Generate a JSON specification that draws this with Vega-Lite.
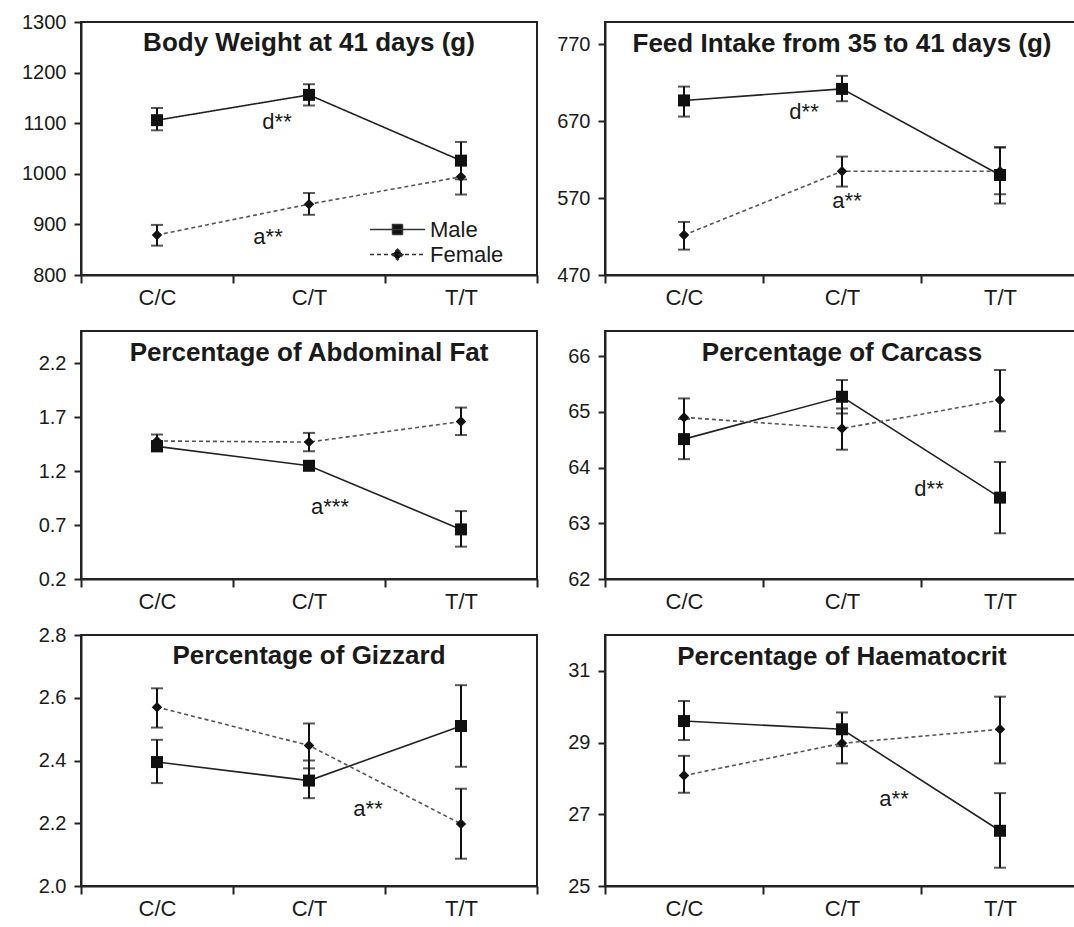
{
  "$schema": "https://vega.github.io/schema/vega-lite/v6.json",
  "padding": {"left": 20, "top": 11, "right": 0, "bottom": 0},
  "background": "white",
  "columns": 2,
  "align": "each",
  "bounds": "flush",
  "spacing": {"row": 56, "column": 68},
  "resolve": {"scale": {"strokeDash": "independent"}, "legend": {"strokeDash": "independent"}},
  "datasets": {
    "m": [
      {"panel": "bw", "sex": "Male", "geno": "C/C", "mean": 1106, "lo": 1086, "hi": 1130},
      {"panel": "bw", "sex": "Male", "geno": "C/T", "mean": 1156, "lo": 1135, "hi": 1177},
      {"panel": "bw", "sex": "Male", "geno": "T/T", "mean": 1026, "lo": 989, "hi": 1063},
      {"panel": "bw", "sex": "Female", "geno": "C/C", "mean": 879, "lo": 858, "hi": 899},
      {"panel": "bw", "sex": "Female", "geno": "C/T", "mean": 940, "lo": 919, "hi": 962},
      {"panel": "bw", "sex": "Female", "geno": "T/T", "mean": 994, "lo": 959, "hi": 1029},
      {"panel": "fi", "sex": "Male", "geno": "C/C", "mean": 697, "lo": 676, "hi": 715},
      {"panel": "fi", "sex": "Male", "geno": "C/T", "mean": 712, "lo": 696, "hi": 729},
      {"panel": "fi", "sex": "Male", "geno": "T/T", "mean": 600, "lo": 563, "hi": 636},
      {"panel": "fi", "sex": "Female", "geno": "C/C", "mean": 522, "lo": 503, "hi": 539},
      {"panel": "fi", "sex": "Female", "geno": "C/T", "mean": 605, "lo": 585, "hi": 624},
      {"panel": "fi", "sex": "Female", "geno": "T/T", "mean": 605, "lo": 575, "hi": 636},
      {"panel": "af", "sex": "Male", "geno": "C/C", "mean": 1.43, "lo": 1.39, "hi": 1.48},
      {"panel": "af", "sex": "Male", "geno": "C/T", "mean": 1.25, "lo": 1.21, "hi": 1.29},
      {"panel": "af", "sex": "Male", "geno": "T/T", "mean": 0.66, "lo": 0.5, "hi": 0.83},
      {"panel": "af", "sex": "Female", "geno": "C/C", "mean": 1.48, "lo": 1.41, "hi": 1.54},
      {"panel": "af", "sex": "Female", "geno": "C/T", "mean": 1.47, "lo": 1.385, "hi": 1.555},
      {"panel": "af", "sex": "Female", "geno": "T/T", "mean": 1.66, "lo": 1.535, "hi": 1.79},
      {"panel": "ca", "sex": "Male", "geno": "C/C", "mean": 64.51, "lo": 64.15, "hi": 64.87},
      {"panel": "ca", "sex": "Male", "geno": "C/T", "mean": 65.27, "lo": 64.97, "hi": 65.57},
      {"panel": "ca", "sex": "Male", "geno": "T/T", "mean": 63.46, "lo": 62.82, "hi": 64.1},
      {"panel": "ca", "sex": "Female", "geno": "C/C", "mean": 64.9, "lo": 64.56, "hi": 65.24},
      {"panel": "ca", "sex": "Female", "geno": "C/T", "mean": 64.7, "lo": 64.32, "hi": 65.06},
      {"panel": "ca", "sex": "Female", "geno": "T/T", "mean": 65.21, "lo": 64.65, "hi": 65.75},
      {"panel": "gz", "sex": "Male", "geno": "C/C", "mean": 2.395, "lo": 2.328, "hi": 2.466},
      {"panel": "gz", "sex": "Male", "geno": "C/T", "mean": 2.336, "lo": 2.28, "hi": 2.4},
      {"panel": "gz", "sex": "Male", "geno": "T/T", "mean": 2.51, "lo": 2.38, "hi": 2.64},
      {"panel": "gz", "sex": "Female", "geno": "C/C", "mean": 2.57, "lo": 2.505, "hi": 2.63},
      {"panel": "gz", "sex": "Female", "geno": "C/T", "mean": 2.448, "lo": 2.375, "hi": 2.518},
      {"panel": "gz", "sex": "Female", "geno": "T/T", "mean": 2.198, "lo": 2.087, "hi": 2.31},
      {"panel": "ha", "sex": "Male", "geno": "C/C", "mean": 29.6, "lo": 29.07, "hi": 30.16},
      {"panel": "ha", "sex": "Male", "geno": "C/T", "mean": 29.37, "lo": 28.9, "hi": 29.84},
      {"panel": "ha", "sex": "Male", "geno": "T/T", "mean": 26.54, "lo": 25.51, "hi": 27.59},
      {"panel": "ha", "sex": "Female", "geno": "C/C", "mean": 28.08, "lo": 27.6, "hi": 28.63},
      {"panel": "ha", "sex": "Female", "geno": "C/T", "mean": 28.98, "lo": 28.42, "hi": 29.45},
      {"panel": "ha", "sex": "Female", "geno": "T/T", "mean": 29.37, "lo": 28.42, "hi": 30.28}
    ],
    "ann": [
      {"panel": "bw", "geno": "C/T", "label": "d**", "y": 1103},
      {"panel": "bw", "geno": "C/T", "label": "a**", "y": 876},
      {"panel": "fi", "geno": "C/T", "label": "d**", "y": 682},
      {"panel": "fi", "geno": "C/T", "label": "a**", "y": 566},
      {"panel": "af", "geno": "C/T", "label": "a***", "y": 0.87},
      {"panel": "ca", "geno": "T/T", "label": "d**", "y": 63.62},
      {"panel": "gz", "geno": "C/T", "label": "a**", "y": 2.245},
      {"panel": "ha", "geno": "C/T", "label": "a**", "y": 27.42}
    ]
  },
  "concat": [
    {
      "width": 456, "height": 253,
      "title": {"text": "Body Weight at 41 days (g)", "anchor": "middle", "frame": "group", "baseline": "top", "offset": -44},
      "layer": [
        {"data": {"name": "m"}, "transform": [{"filter": "datum.panel === 'bw'"}],
         "mark": {"type": "rule", "color": "#111", "strokeWidth": 2},
         "encoding": {
           "x": {"field": "geno", "type": "nominal", "title": null, "scale": {"type": "band", "domain": ["C/C", "C/T", "T/T"], "paddingInner": 0, "paddingOuter": 0}},
           "y": {"field": "lo", "type": "quantitative", "title": null, "scale": {"domain": [800, 1300], "nice": false, "zero": false}, "axis": {"values": [800, 900, 1000, 1100, 1200, 1300], "format": "d"}},
           "y2": {"field": "hi"}}},
        {"data": {"name": "m"}, "transform": [{"filter": "datum.panel === 'bw'"}],
         "mark": {"type": "tick", "color": "#111", "size": 12, "thickness": 2},
         "encoding": {"x": {"field": "geno", "type": "nominal", "title": null}, "y": {"field": "lo", "type": "quantitative", "title": null}}},
        {"data": {"name": "m"}, "transform": [{"filter": "datum.panel === 'bw'"}],
         "mark": {"type": "tick", "color": "#111", "size": 12, "thickness": 2},
         "encoding": {"x": {"field": "geno", "type": "nominal", "title": null}, "y": {"field": "hi", "type": "quantitative", "title": null}}},
        {"data": {"name": "m"}, "transform": [{"filter": "datum.panel === 'bw' && datum.sex === 'Male'"}],
         "mark": {"type": "line", "strokeWidth": 1.6, "color": "#222222"},
         "encoding": {"x": {"field": "geno", "type": "nominal", "title": null}, "y": {"field": "mean", "type": "quantitative", "title": null},
           "strokeDash": {"field": "sex", "type": "nominal", "scale": {"domain": ["Male", "Female"], "range": [[1, 0], [4, 3]]},
             "legend": {"orient": "none", "legendX": 303, "legendY": 194, "title": null, "padding": 0, "symbolType": "M-2.2,0H2.2M-0.4,-0.4H0.4V0.4H-0.4Z", "symbolSize": 625, "symbolFillColor": "#111111", "symbolStrokeColor": "#222222", "symbolStrokeWidth": 1.5, "symbolOpacity": 1, "rowPadding": 0, "labelOffset": 19, "labelFontSize": 22, "labelFont": "Liberation Sans", "labelColor": "#1a1a1a",
               "encode": {"symbols": {"update": {
                 "shape": [{"test": "datum.value === 'Male'", "value": "M-2.2,0H2.2M-0.4,-0.4H0.4V0.4H-0.4Z"}, {"value": "M-2.2,0H2.2M0,-0.44L0.44,0L0,0.44L-0.44,0Z"}],
                 "fill": {"value": "#111111"}, "stroke": {"value": "#333333"}, "strokeWidth": {"value": 1.5}}}}}}}},
        {"data": {"name": "m"}, "transform": [{"filter": "datum.panel === 'bw' && datum.sex === 'Female'"}],
         "mark": {"type": "line", "strokeWidth": 1.6, "color": "#555555", "strokeDash": [4, 3]},
         "encoding": {"x": {"field": "geno", "type": "nominal", "title": null}, "y": {"field": "mean", "type": "quantitative", "title": null}}},
        {"data": {"name": "m"}, "transform": [{"filter": "datum.panel === 'bw' && datum.sex === 'Male'"}],
         "mark": {"type": "point", "shape": "square", "filled": true, "size": 144, "color": "#111", "opacity": 1},
         "encoding": {"x": {"field": "geno", "type": "nominal", "title": null}, "y": {"field": "mean", "type": "quantitative", "title": null}}},
        {"data": {"name": "m"}, "transform": [{"filter": "datum.panel === 'bw' && datum.sex === 'Female'"}],
         "mark": {"type": "point", "shape": "diamond", "filled": true, "size": 110, "color": "#111", "opacity": 1},
         "encoding": {"x": {"field": "geno", "type": "nominal", "title": null}, "y": {"field": "mean", "type": "quantitative", "title": null}}},
        {"data": {"name": "ann"}, "transform": [{"filter": "datum.panel === 'bw' && datum.label === 'd**'"}],
         "mark": {"type": "text", "fontSize": 22, "color": "#1a1a1a", "dx": -32},
         "encoding": {"x": {"field": "geno", "type": "nominal", "title": null}, "y": {"field": "y", "type": "quantitative", "title": null}, "text": {"field": "label"}}},
        {"data": {"name": "ann"}, "transform": [{"filter": "datum.panel === 'bw' && datum.label === 'a**'"}],
         "mark": {"type": "text", "fontSize": 22, "color": "#1a1a1a", "dx": -41},
         "encoding": {"x": {"field": "geno", "type": "nominal", "title": null}, "y": {"field": "y", "type": "quantitative", "title": null}, "text": {"field": "label"}}}
      ]
    },
    {
      "width": 474, "height": 253,
      "title": {"text": "Feed Intake from 35 to 41 days (g)", "anchor": "middle", "frame": "group", "baseline": "top", "offset": -35},
      "layer": [
        {"data": {"name": "m"}, "transform": [{"filter": "datum.panel === 'fi'"}],
         "mark": {"type": "rule", "color": "#111", "strokeWidth": 2},
         "encoding": {
           "x": {"field": "geno", "type": "nominal", "title": null, "scale": {"type": "band", "domain": ["C/C", "C/T", "T/T"], "paddingInner": 0, "paddingOuter": 0}},
           "y": {"field": "lo", "type": "quantitative", "title": null, "scale": {"domain": [470, 799], "nice": false, "zero": false}, "axis": {"values": [470, 570, 670, 770], "format": "d"}},
           "y2": {"field": "hi"}}},
        {"data": {"name": "m"}, "transform": [{"filter": "datum.panel === 'fi'"}],
         "mark": {"type": "tick", "color": "#111", "size": 12, "thickness": 2},
         "encoding": {"x": {"field": "geno", "type": "nominal", "title": null}, "y": {"field": "lo", "type": "quantitative", "title": null}}},
        {"data": {"name": "m"}, "transform": [{"filter": "datum.panel === 'fi'"}],
         "mark": {"type": "tick", "color": "#111", "size": 12, "thickness": 2},
         "encoding": {"x": {"field": "geno", "type": "nominal", "title": null}, "y": {"field": "hi", "type": "quantitative", "title": null}}},
        {"data": {"name": "m"}, "transform": [{"filter": "datum.panel === 'fi' && datum.sex === 'Male'"}],
         "mark": {"type": "line", "strokeWidth": 1.6, "color": "#222222"},
         "encoding": {"x": {"field": "geno", "type": "nominal", "title": null}, "y": {"field": "mean", "type": "quantitative", "title": null}}},
        {"data": {"name": "m"}, "transform": [{"filter": "datum.panel === 'fi' && datum.sex === 'Female'"}],
         "mark": {"type": "line", "strokeWidth": 1.6, "color": "#555555", "strokeDash": [4, 3]},
         "encoding": {"x": {"field": "geno", "type": "nominal", "title": null}, "y": {"field": "mean", "type": "quantitative", "title": null}}},
        {"data": {"name": "m"}, "transform": [{"filter": "datum.panel === 'fi' && datum.sex === 'Male'"}],
         "mark": {"type": "point", "shape": "square", "filled": true, "size": 144, "color": "#111", "opacity": 1},
         "encoding": {"x": {"field": "geno", "type": "nominal", "title": null}, "y": {"field": "mean", "type": "quantitative", "title": null}}},
        {"data": {"name": "m"}, "transform": [{"filter": "datum.panel === 'fi' && datum.sex === 'Female'"}],
         "mark": {"type": "point", "shape": "diamond", "filled": true, "size": 110, "color": "#111", "opacity": 1},
         "encoding": {"x": {"field": "geno", "type": "nominal", "title": null}, "y": {"field": "mean", "type": "quantitative", "title": null}}},
        {"data": {"name": "ann"}, "transform": [{"filter": "datum.panel === 'fi' && datum.label === 'd**'"}],
         "mark": {"type": "text", "fontSize": 22, "color": "#1a1a1a", "dx": -38},
         "encoding": {"x": {"field": "geno", "type": "nominal", "title": null}, "y": {"field": "y", "type": "quantitative", "title": null}, "text": {"field": "label"}}},
        {"data": {"name": "ann"}, "transform": [{"filter": "datum.panel === 'fi' && datum.label === 'a**'"}],
         "mark": {"type": "text", "fontSize": 22, "color": "#1a1a1a", "dx": 5},
         "encoding": {"x": {"field": "geno", "type": "nominal", "title": null}, "y": {"field": "y", "type": "quantitative", "title": null}, "text": {"field": "label"}}}
      ]
    },
    {
      "width": 456, "height": 248,
      "title": {"text": "Percentage of Abdominal Fat", "anchor": "middle", "frame": "group", "baseline": "top", "offset": -35},
      "layer": [
        {"data": {"name": "m"}, "transform": [{"filter": "datum.panel === 'af'"}],
         "mark": {"type": "rule", "color": "#111", "strokeWidth": 2},
         "encoding": {
           "x": {"field": "geno", "type": "nominal", "title": null, "scale": {"type": "band", "domain": ["C/C", "C/T", "T/T"], "paddingInner": 0, "paddingOuter": 0}},
           "y": {"field": "lo", "type": "quantitative", "title": null, "scale": {"domain": [0.2, 2.5], "nice": false, "zero": false}, "axis": {"values": [0.2, 0.7, 1.2, 1.7, 2.2], "format": ".1f"}},
           "y2": {"field": "hi"}}},
        {"data": {"name": "m"}, "transform": [{"filter": "datum.panel === 'af'"}],
         "mark": {"type": "tick", "color": "#111", "size": 12, "thickness": 2},
         "encoding": {"x": {"field": "geno", "type": "nominal", "title": null}, "y": {"field": "lo", "type": "quantitative", "title": null}}},
        {"data": {"name": "m"}, "transform": [{"filter": "datum.panel === 'af'"}],
         "mark": {"type": "tick", "color": "#111", "size": 12, "thickness": 2},
         "encoding": {"x": {"field": "geno", "type": "nominal", "title": null}, "y": {"field": "hi", "type": "quantitative", "title": null}}},
        {"data": {"name": "m"}, "transform": [{"filter": "datum.panel === 'af' && datum.sex === 'Male'"}],
         "mark": {"type": "line", "strokeWidth": 1.6, "color": "#222222"},
         "encoding": {"x": {"field": "geno", "type": "nominal", "title": null}, "y": {"field": "mean", "type": "quantitative", "title": null}}},
        {"data": {"name": "m"}, "transform": [{"filter": "datum.panel === 'af' && datum.sex === 'Female'"}],
         "mark": {"type": "line", "strokeWidth": 1.6, "color": "#555555", "strokeDash": [4, 3]},
         "encoding": {"x": {"field": "geno", "type": "nominal", "title": null}, "y": {"field": "mean", "type": "quantitative", "title": null}}},
        {"data": {"name": "m"}, "transform": [{"filter": "datum.panel === 'af' && datum.sex === 'Male'"}],
         "mark": {"type": "point", "shape": "square", "filled": true, "size": 144, "color": "#111", "opacity": 1},
         "encoding": {"x": {"field": "geno", "type": "nominal", "title": null}, "y": {"field": "mean", "type": "quantitative", "title": null}}},
        {"data": {"name": "m"}, "transform": [{"filter": "datum.panel === 'af' && datum.sex === 'Female'"}],
         "mark": {"type": "point", "shape": "diamond", "filled": true, "size": 110, "color": "#111", "opacity": 1},
         "encoding": {"x": {"field": "geno", "type": "nominal", "title": null}, "y": {"field": "mean", "type": "quantitative", "title": null}}},
        {"data": {"name": "ann"}, "transform": [{"filter": "datum.panel === 'af'"}],
         "mark": {"type": "text", "fontSize": 22, "color": "#1a1a1a", "dx": 21},
         "encoding": {"x": {"field": "geno", "type": "nominal", "title": null}, "y": {"field": "y", "type": "quantitative", "title": null}, "text": {"field": "label"}}}
      ]
    },
    {
      "width": 474, "height": 248,
      "title": {"text": "Percentage of Carcass", "anchor": "middle", "frame": "group", "baseline": "top", "offset": -35},
      "layer": [
        {"data": {"name": "m"}, "transform": [{"filter": "datum.panel === 'ca'"}],
         "mark": {"type": "rule", "color": "#111", "strokeWidth": 2},
         "encoding": {
           "x": {"field": "geno", "type": "nominal", "title": null, "scale": {"type": "band", "domain": ["C/C", "C/T", "T/T"], "paddingInner": 0, "paddingOuter": 0}},
           "y": {"field": "lo", "type": "quantitative", "title": null, "scale": {"domain": [62, 66.45], "nice": false, "zero": false}, "axis": {"values": [62, 63, 64, 65, 66], "format": "d"}},
           "y2": {"field": "hi"}}},
        {"data": {"name": "m"}, "transform": [{"filter": "datum.panel === 'ca'"}],
         "mark": {"type": "tick", "color": "#111", "size": 12, "thickness": 2},
         "encoding": {"x": {"field": "geno", "type": "nominal", "title": null}, "y": {"field": "lo", "type": "quantitative", "title": null}}},
        {"data": {"name": "m"}, "transform": [{"filter": "datum.panel === 'ca'"}],
         "mark": {"type": "tick", "color": "#111", "size": 12, "thickness": 2},
         "encoding": {"x": {"field": "geno", "type": "nominal", "title": null}, "y": {"field": "hi", "type": "quantitative", "title": null}}},
        {"data": {"name": "m"}, "transform": [{"filter": "datum.panel === 'ca' && datum.sex === 'Male'"}],
         "mark": {"type": "line", "strokeWidth": 1.6, "color": "#222222"},
         "encoding": {"x": {"field": "geno", "type": "nominal", "title": null}, "y": {"field": "mean", "type": "quantitative", "title": null}}},
        {"data": {"name": "m"}, "transform": [{"filter": "datum.panel === 'ca' && datum.sex === 'Female'"}],
         "mark": {"type": "line", "strokeWidth": 1.6, "color": "#555555", "strokeDash": [4, 3]},
         "encoding": {"x": {"field": "geno", "type": "nominal", "title": null}, "y": {"field": "mean", "type": "quantitative", "title": null}}},
        {"data": {"name": "m"}, "transform": [{"filter": "datum.panel === 'ca' && datum.sex === 'Male'"}],
         "mark": {"type": "point", "shape": "square", "filled": true, "size": 144, "color": "#111", "opacity": 1},
         "encoding": {"x": {"field": "geno", "type": "nominal", "title": null}, "y": {"field": "mean", "type": "quantitative", "title": null}}},
        {"data": {"name": "m"}, "transform": [{"filter": "datum.panel === 'ca' && datum.sex === 'Female'"}],
         "mark": {"type": "point", "shape": "diamond", "filled": true, "size": 110, "color": "#111", "opacity": 1},
         "encoding": {"x": {"field": "geno", "type": "nominal", "title": null}, "y": {"field": "mean", "type": "quantitative", "title": null}}},
        {"data": {"name": "ann"}, "transform": [{"filter": "datum.panel === 'ca'"}],
         "mark": {"type": "text", "fontSize": 22, "color": "#1a1a1a", "dx": -71},
         "encoding": {"x": {"field": "geno", "type": "nominal", "title": null}, "y": {"field": "y", "type": "quantitative", "title": null}, "text": {"field": "label"}}}
      ]
    },
    {
      "width": 456, "height": 251,
      "title": {"text": "Percentage of Gizzard", "anchor": "middle", "frame": "group", "baseline": "top", "offset": -44},
      "layer": [
        {"data": {"name": "m"}, "transform": [{"filter": "datum.panel === 'gz'"}],
         "mark": {"type": "rule", "color": "#111", "strokeWidth": 2},
         "encoding": {
           "x": {"field": "geno", "type": "nominal", "title": null, "scale": {"type": "band", "domain": ["C/C", "C/T", "T/T"], "paddingInner": 0, "paddingOuter": 0}},
           "y": {"field": "lo", "type": "quantitative", "title": null, "scale": {"domain": [2.0, 2.8], "nice": false, "zero": false}, "axis": {"values": [2.0, 2.2, 2.4, 2.6, 2.8], "format": ".1f"}},
           "y2": {"field": "hi"}}},
        {"data": {"name": "m"}, "transform": [{"filter": "datum.panel === 'gz'"}],
         "mark": {"type": "tick", "color": "#111", "size": 12, "thickness": 2},
         "encoding": {"x": {"field": "geno", "type": "nominal", "title": null}, "y": {"field": "lo", "type": "quantitative", "title": null}}},
        {"data": {"name": "m"}, "transform": [{"filter": "datum.panel === 'gz'"}],
         "mark": {"type": "tick", "color": "#111", "size": 12, "thickness": 2},
         "encoding": {"x": {"field": "geno", "type": "nominal", "title": null}, "y": {"field": "hi", "type": "quantitative", "title": null}}},
        {"data": {"name": "m"}, "transform": [{"filter": "datum.panel === 'gz' && datum.sex === 'Male'"}],
         "mark": {"type": "line", "strokeWidth": 1.6, "color": "#222222"},
         "encoding": {"x": {"field": "geno", "type": "nominal", "title": null}, "y": {"field": "mean", "type": "quantitative", "title": null}}},
        {"data": {"name": "m"}, "transform": [{"filter": "datum.panel === 'gz' && datum.sex === 'Female'"}],
         "mark": {"type": "line", "strokeWidth": 1.6, "color": "#555555", "strokeDash": [4, 3]},
         "encoding": {"x": {"field": "geno", "type": "nominal", "title": null}, "y": {"field": "mean", "type": "quantitative", "title": null}}},
        {"data": {"name": "m"}, "transform": [{"filter": "datum.panel === 'gz' && datum.sex === 'Male'"}],
         "mark": {"type": "point", "shape": "square", "filled": true, "size": 144, "color": "#111", "opacity": 1},
         "encoding": {"x": {"field": "geno", "type": "nominal", "title": null}, "y": {"field": "mean", "type": "quantitative", "title": null}}},
        {"data": {"name": "m"}, "transform": [{"filter": "datum.panel === 'gz' && datum.sex === 'Female'"}],
         "mark": {"type": "point", "shape": "diamond", "filled": true, "size": 110, "color": "#111", "opacity": 1},
         "encoding": {"x": {"field": "geno", "type": "nominal", "title": null}, "y": {"field": "mean", "type": "quantitative", "title": null}}},
        {"data": {"name": "ann"}, "transform": [{"filter": "datum.panel === 'gz'"}],
         "mark": {"type": "text", "fontSize": 22, "color": "#1a1a1a", "dx": 59},
         "encoding": {"x": {"field": "geno", "type": "nominal", "title": null}, "y": {"field": "y", "type": "quantitative", "title": null}, "text": {"field": "label"}}}
      ]
    },
    {
      "width": 474, "height": 251,
      "title": {"text": "Percentage of Haematocrit", "anchor": "middle", "frame": "group", "baseline": "top", "offset": -35},
      "layer": [
        {"data": {"name": "m"}, "transform": [{"filter": "datum.panel === 'ha'"}],
         "mark": {"type": "rule", "color": "#111", "strokeWidth": 2},
         "encoding": {
           "x": {"field": "geno", "type": "nominal", "title": null, "scale": {"type": "band", "domain": ["C/C", "C/T", "T/T"], "paddingInner": 0, "paddingOuter": 0}},
           "y": {"field": "lo", "type": "quantitative", "title": null, "scale": {"domain": [25, 32], "nice": false, "zero": false}, "axis": {"values": [25, 27, 29, 31], "format": "d"}},
           "y2": {"field": "hi"}}},
        {"data": {"name": "m"}, "transform": [{"filter": "datum.panel === 'ha'"}],
         "mark": {"type": "tick", "color": "#111", "size": 12, "thickness": 2},
         "encoding": {"x": {"field": "geno", "type": "nominal", "title": null}, "y": {"field": "lo", "type": "quantitative", "title": null}}},
        {"data": {"name": "m"}, "transform": [{"filter": "datum.panel === 'ha'"}],
         "mark": {"type": "tick", "color": "#111", "size": 12, "thickness": 2},
         "encoding": {"x": {"field": "geno", "type": "nominal", "title": null}, "y": {"field": "hi", "type": "quantitative", "title": null}}},
        {"data": {"name": "m"}, "transform": [{"filter": "datum.panel === 'ha' && datum.sex === 'Male'"}],
         "mark": {"type": "line", "strokeWidth": 1.6, "color": "#222222"},
         "encoding": {"x": {"field": "geno", "type": "nominal", "title": null}, "y": {"field": "mean", "type": "quantitative", "title": null}}},
        {"data": {"name": "m"}, "transform": [{"filter": "datum.panel === 'ha' && datum.sex === 'Female'"}],
         "mark": {"type": "line", "strokeWidth": 1.6, "color": "#555555", "strokeDash": [4, 3]},
         "encoding": {"x": {"field": "geno", "type": "nominal", "title": null}, "y": {"field": "mean", "type": "quantitative", "title": null}}},
        {"data": {"name": "m"}, "transform": [{"filter": "datum.panel === 'ha' && datum.sex === 'Male'"}],
         "mark": {"type": "point", "shape": "square", "filled": true, "size": 144, "color": "#111", "opacity": 1},
         "encoding": {"x": {"field": "geno", "type": "nominal", "title": null}, "y": {"field": "mean", "type": "quantitative", "title": null}}},
        {"data": {"name": "m"}, "transform": [{"filter": "datum.panel === 'ha' && datum.sex === 'Female'"}],
         "mark": {"type": "point", "shape": "diamond", "filled": true, "size": 110, "color": "#111", "opacity": 1},
         "encoding": {"x": {"field": "geno", "type": "nominal", "title": null}, "y": {"field": "mean", "type": "quantitative", "title": null}}},
        {"data": {"name": "ann"}, "transform": [{"filter": "datum.panel === 'ha'"}],
         "mark": {"type": "text", "fontSize": 22, "color": "#1a1a1a", "dx": 52},
         "encoding": {"x": {"field": "geno", "type": "nominal", "title": null}, "y": {"field": "y", "type": "quantitative", "title": null}, "text": {"field": "label"}}}
      ]
    }
  ],
  "config": {
    "font": "Liberation Sans",
    "view": {"stroke": "#222222", "strokeWidth": 2},
    "title": {"font": "Liberation Sans", "fontSize": 26, "fontWeight": "bold", "color": "#1a1a1a"},
    "text": {"font": "Liberation Sans"},
    "axis": {"labelFont": "Liberation Sans", "labelColor": "#1a1a1a", "domainColor": "#222222", "domainWidth": 2, "tickColor": "#222222", "tickWidth": 2, "grid": false},
    "axisX": {"labelFontSize": 22, "tickSize": 8, "labelPadding": 4, "labelAngle": 0, "tickBand": "extent"},
    "axisY": {"labelFontSize": 20, "tickSize": 7, "labelPadding": 8}
  }
}
